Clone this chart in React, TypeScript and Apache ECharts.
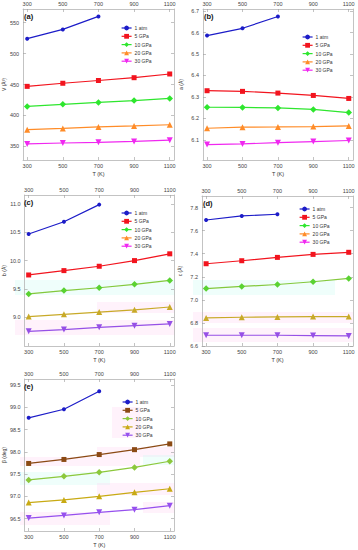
import React, { useEffect, useRef } from "react";
import * as echarts from "echarts";

const temps = [300, 500, 700, 900, 1100];
const tempsAtm = [300, 500, 700];
const xTicks = [300, 500, 700, 900, 1100];
const seriesNames = ["1 atm", "5 GPa", "10 GPa", "20 GPa", "30 GPa"];

// (a) volume
const V_atm = [524, 539, 560];
const V_5 = [447, 452, 456.5, 461, 467];
const V_10 = [414.5, 418, 421, 424, 427.5];
const V_20 = [377, 379, 381.5, 383, 385];
const V_30 = [354, 355.5, 356.5, 358, 360];
const V_ticks = [350, 400, 450, 500, 550];

// (b) a
const a_atm = [6.586, 6.62, 6.675];
const a_5 = [6.329, 6.326, 6.318, 6.307, 6.293];
const a_10 = [6.252, 6.251, 6.249, 6.242, 6.227];
const a_20 = [6.154, 6.159, 6.16, 6.162, 6.165];
const a_30 = [6.078, 6.081, 6.087, 6.092, 6.097];
const a_ticks = [6.1, 6.2, 6.3, 6.4, 6.5, 6.6, 6.7];

// (c) b
const b_atm = [10.47, 10.686, 10.99];
const b_5 = [9.746, 9.823, 9.9, 10.0, 10.12];
const b_10 = [9.41, 9.47, 9.52, 9.58, 9.65];
const b_20 = [9.01, 9.05, 9.09, 9.13, 9.18];
const b_30 = [8.75, 8.78, 8.82, 8.85, 8.88];
const b_ticks = [9.0, 9.5, 10.0, 10.5, 11.0];

// (d) c
const c_atm = [7.692, 7.727, 7.742];
const c_5 = [7.313, 7.339, 7.368, 7.394, 7.412];
const c_10 = [7.098, 7.116, 7.133, 7.157, 7.186];
const c_20 = [6.843, 6.849, 6.852, 6.855, 6.855];
const c_30 = [6.693, 6.693, 6.693, 6.69, 6.687];
const c_ticks = [6.6, 6.8, 7.0, 7.2, 7.4, 7.6, 7.8];

// (e) beta
const beta_atm = [98.766, 98.96, 99.365];
const beta_5 = [97.74, 97.83, 97.94, 98.05, 98.18];
const beta_10 = [97.37, 97.45, 97.54, 97.65, 97.79];
const beta_20 = [96.86, 96.92, 97.0, 97.09, 97.17];
const beta_30 = [96.51, 96.57, 96.64, 96.7, 96.79];
const beta_ticks = [96.5, 97.0, 97.5, 98.0, 98.5, 99.0, 99.5];

const FONT = "Liberation Sans, Arial, sans-serif";
const symbols = ["circle", "rect", "diamond", "triangle", "triangle"];
const symbolRot = [0, 0, 0, 0, 180];
const symbolSizes = [4, 5, 6.5, 6, 6];
const brightColors = ["#1c1cc8", "#f2141e", "#2ee62e", "#ff8c28", "#f028f0"];

type Panel = {
  key: string;
  label: string;
  yName: string;
  yNameGap: number;
  data: number[][];
  yTicks: number[];
  yMin: number;
  yMax: number;
  decimals: number;
  box: { left: number; top: number; width: number; height: number };
  legendPos: { left: number; top: number };
  lineColors: string[];
  markerColors: string[];
  legendColors: string[];
};

const panels: Panel[] = [
  {
    key: "a", label: "(a)", yName: "V (Å³)", yNameGap: 16,
    data: [V_atm, V_5, V_10, V_20, V_30], yTicks: V_ticks, yMin: 328, yMax: 572, decimals: 0,
    box: { left: 23, top: 9, width: 151, height: 151 }, legendPos: { left: 121, top: 25 },
    lineColors: brightColors, markerColors: brightColors, legendColors: brightColors,
  },
  {
    key: "b", label: "(b)", yName: "a (Å)", yNameGap: 20,
    data: [a_atm, a_5, a_10, a_20, a_30], yTicks: a_ticks, yMin: 6.006, yMax: 6.71, decimals: 1,
    box: { left: 203, top: 9, width: 150, height: 151 }, legendPos: { left: 302, top: 34 },
    lineColors: brightColors, markerColors: brightColors, legendColors: brightColors,
  },
  {
    key: "c", label: "(c)", yName: "b (Å)", yNameGap: 18,
    data: [b_atm, b_5, b_10, b_20, b_30], yTicks: b_ticks, yMin: 8.49, yMax: 11.16, decimals: 1,
    box: { left: 23, top: 195, width: 151, height: 151 }, legendPos: { left: 121, top: 210 },
    lineColors: ["#1c1cc8", "#f2141e", "#84c83c", "#c8aa28", "#9650e6"],
    markerColors: ["#1c1cc8", "#f2141e", "#5ad232", "#c8aa28", "#9650e6"],
    legendColors: brightColors,
  },
  {
    key: "d", label: "(d)", yName: "c (Å)", yNameGap: 20,
    data: [c_atm, c_5, c_10, c_20, c_30], yTicks: c_ticks, yMin: 6.6, yMax: 7.9, decimals: 1,
    box: { left: 202, top: 196, width: 151, height: 150 }, legendPos: { left: 299, top: 206 },
    lineColors: ["#1c1cc8", "#f2141e", "#84c83c", "#c8aa28", "#9650e6"],
    markerColors: ["#1c1cc8", "#f2141e", "#5ad232", "#c8aa28", "#9650e6"],
    legendColors: brightColors,
  },
  {
    key: "e", label: "(e)", yName: "β (deg)", yNameGap: 17,
    data: [beta_atm, beta_5, beta_10, beta_20, beta_30], yTicks: beta_ticks, yMin: 96.22, yMax: 99.64, decimals: 1,
    box: { left: 23, top: 379, width: 151, height: 152 }, legendPos: { left: 122, top: 399 },
    lineColors: ["#1c1cc8", "#8b4a14", "#8cc83c", "#c8aa14", "#9650ee"],
    markerColors: ["#1c1cc8", "#8b4a14", "#8cc83c", "#c8aa14", "#9650ee"],
    legendColors: ["#1c1cc8", "#8b4a14", "#8cc83c", "#c8aa14", "#9650ee"],
  },
];

const X_MIN = 277;
const X_MAX = 1124;

const CYAN = "rgba(180,250,238,0.22)";
const PINK = "rgba(255,210,240,0.28)";
// faint highlight bands (decoration)
const bands = [
  { x: 15, y: 280, w: 160, h: 15, c: CYAN },
  { x: 97, y: 302, w: 78, h: 11, c: PINK },
  { x: 15, y: 320, w: 160, h: 15, c: PINK },
  { x: 193, y: 280, w: 142, h: 15, c: CYAN },
  { x: 193, y: 312, w: 160, h: 11, c: PINK },
  { x: 193, y: 328, w: 160, h: 14, c: PINK },
  { x: 20, y: 457, w: 120, h: 9, c: PINK },
  { x: 97, y: 447, w: 78, h: 10, c: PINK },
  { x: 112, y: 407, w: 28, h: 31, c: PINK },
  { x: 20, y: 472, w: 90, h: 13, c: CYAN },
  { x: 143, y: 455, w: 32, h: 10, c: CYAN },
  { x: 97, y: 483, w: 78, h: 12, c: PINK },
  { x: 20, y: 512, w: 90, h: 13, c: PINK },
  { x: 143, y: 502, w: 32, h: 11, c: PINK },
];

function buildOption() {
  const grid: any[] = [];
  const xAxis: any[] = [];
  const yAxis: any[] = [];
  const series: any[] = [];
  const legend: any[] = [];
  const graphic: any[] = [];

  const axisLineStyle = { lineStyle: { color: "#b4b4b4", width: 0.8 } };
  const tickStyle = { show: true, inside: true, length: 3, lineStyle: { color: "#9a9a9a", width: 0.6 } };
  const labelBase = { fontSize: 5.5, color: "#444", fontFamily: FONT };
  const xFmt = (v: number) => String(v);

  bands.forEach((b) => {
    graphic.push({ type: "rect", shape: { x: b.x, y: b.y, width: b.w, height: b.h }, style: { fill: b.c }, z: 0, silent: true });
  });

  panels.forEach((p, pi) => {
    grid.push({ ...p.box, show: false, containLabel: false });
    const xi = pi * 2;
    xAxis.push({
      type: "value", gridIndex: pi, position: "bottom", min: X_MIN, max: X_MAX,
      name: "T (K)", nameLocation: "middle", nameGap: 11,
      nameTextStyle: { fontSize: 5.5, color: "#333", fontFamily: FONT },
      axisLine: { show: true, ...axisLineStyle },
      axisTick: { ...tickStyle, customValues: xTicks },
      axisLabel: { ...labelBase, margin: 3, customValues: xTicks, formatter: xFmt },
      splitLine: { show: false },
    });
    xAxis.push({
      type: "value", gridIndex: pi, position: "top", min: X_MIN, max: X_MAX,
      axisLine: { show: true, ...axisLineStyle },
      axisTick: { ...tickStyle, customValues: xTicks },
      axisLabel: { ...labelBase, margin: 2, customValues: xTicks, formatter: xFmt },
      splitLine: { show: false },
    });
    const yi = pi * 2;
    yAxis.push({
      type: "value", gridIndex: pi, position: "left", min: p.yMin, max: p.yMax,
      name: p.yName, nameLocation: "middle", nameGap: p.yNameGap, nameRotate: 90,
      nameTextStyle: { fontSize: 5, color: "#333", fontFamily: FONT },
      axisLine: { show: true, ...axisLineStyle },
      axisTick: { ...tickStyle, customValues: p.yTicks },
      axisLabel: {
        ...labelBase, margin: 4, customValues: p.yTicks,
        formatter: (v: number) => v.toFixed(p.decimals),
      },
      splitLine: { show: false },
    });
    yAxis.push({
      type: "value", gridIndex: pi, position: "right", min: p.yMin, max: p.yMax,
      axisLine: { show: true, ...axisLineStyle },
      axisTick: { ...tickStyle, customValues: p.yTicks },
      axisLabel: { show: false },
      splitLine: { show: false },
    });

    p.data.forEach((vals, si) => {
      const xs = si === 0 ? tempsAtm : temps;
      series.push({
        type: "line",
        name: p.key + ":" + seriesNames[si],
        xAxisIndex: xi,
        yAxisIndex: yi,
        data: vals.map((v, k) => [xs[k], v]),
        symbol: symbols[si],
        symbolRotate: symbolRot[si],
        symbolSize: symbolSizes[si],
        showSymbol: true,
        lineStyle: { color: p.lineColors[si], width: 1.2 },
        itemStyle: { color: p.markerColors[si] },
        z: 3,
      });
    });

    legend.push({
      orient: "vertical",
      left: p.legendPos.left,
      top: p.legendPos.top,
      padding: 0,
      itemGap: 2.3,
      itemWidth: 10,
      itemHeight: 6,
      selectedMode: false,
      textStyle: { fontSize: 5, color: "#333", fontFamily: FONT, lineHeight: 6, padding: [0, 0, 0, -2] },
      formatter: (name: string) => name.slice(2),
      data: seriesNames.map((n, si) => ({
        name: p.key + ":" + n,
        itemStyle: { color: p.legendColors[si] },
        lineStyle: { color: p.legendColors[si], width: 1.2 },
      })),
    });

    graphic.push({
      type: "text",
      left: p.box.left + 1,
      top: p.box.top + 3,
      style: { text: p.label, font: "bold 7.5px " + FONT, fill: "#111" },
      z: 10,
    });
  });

  return {
    animation: false,
    backgroundColor: "#ffffff",
    grid,
    xAxis,
    yAxis,
    series,
    legend,
    graphic,
  };
}

export default function App() {
  const ref = useRef<HTMLDivElement>(null);
  useEffect(() => {
    if (!ref.current) return;
    const chart = echarts.init(ref.current, undefined, { renderer: "svg" });
    chart.setOption(buildOption() as any);
    return () => chart.dispose();
  }, []);
  return (
    <div
      ref={ref}
      style={{ position: "fixed", left: 0, top: 0, width: 358, height: 550 }}
    />
  );
}
